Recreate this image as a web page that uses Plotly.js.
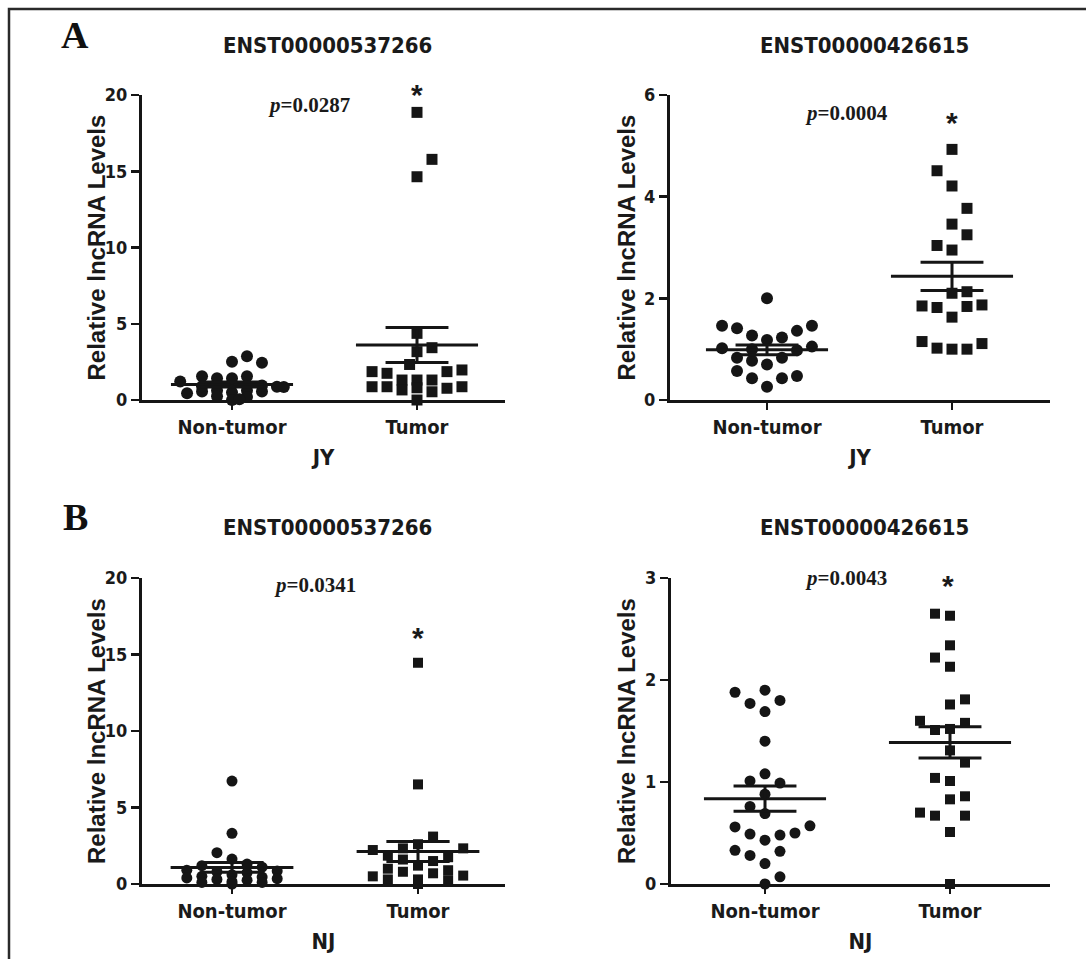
<!DOCTYPE html>
<html>
<head>
<meta charset="utf-8">
<script src="https://cdn.plot.ly/plotly-3.0.1.min.js"></script>
<style>html,body{margin:0;padding:0;background:#fff;}#chart{width:1086px;height:959px;}</style>
</head>
<body>
<div id="chart"></div>
<script>
// ---------- data ----------
const categories = ['Non-tumor', 'Tumor'];
const genes = ['ENST00000537266', 'ENST00000426615'];
const cohorts = ['JY', 'NJ'];
const pValues = ['0.0287', '0.0004', '0.0341', '0.0043'];
const panelLetters = ['A', 'B'];
const yAxisTitle = 'Relative lncRNA Levels';

// JY, ENST00000537266
const jy537NonTumor = [2.51, 2.87, 2.45, 1.22, 1.55, 1.42, 1.42, 1.55, 0.44, 0.55, 0.62, 0.50, 0.62, 0.55, 0.87, 0.85, 0.90, 0.95, 0.25, 0.20, 0.00, 0.05];
const jy537NonTumorJitter = [0, 0.081, 0.162, -0.28, -0.162, -0.081, 0, 0.081, -0.243, -0.162, -0.081, 0, 0.081, 0.162, 0.243, 0.28, -0.162, 0.162, -0.081, 0.081, 0, 0.04];
const jy537Tumor = [18.86, 15.78, 14.64, 4.37, 3.43, 3.17, 2.33, 1.86, 0.87, 1.75, 0.87, 1.31, 0.66, 1.31, 1.31, 0.54, 1.86, 0.77, 1.97, 0.87, 0.00, 0.80];
const jy537TumorJitter = [0, 0.081, 0, 0, 0.081, 0, -0.04, -0.243, -0.243, -0.162, -0.162, -0.081, -0.081, 0, 0.081, 0.081, 0.162, 0.162, 0.243, 0.243, 0, 0];

// JY, ENST00000426615
const jy426NonTumor = [2.00, 1.46, 1.41, 1.27, 1.18, 1.23, 1.36, 1.46, 1.02, 1.05, 0.98, 0.83, 0.77, 0.70, 0.83, 0.57, 0.43, 0.26, 0.43, 0.47, 1.00];
const jy426NonTumorJitter = [0, -0.243, -0.162, -0.081, 0, 0.081, 0.162, 0.243, -0.243, 0.243, 0.162, -0.162, -0.081, 0, 0.081, -0.162, -0.081, 0, 0.081, 0.162, -0.081];
const jy426Tumor = [4.93, 4.51, 4.21, 3.77, 3.46, 3.25, 3.04, 2.95, 2.10, 2.13, 1.85, 1.82, 1.84, 1.87, 1.63, 1.15, 1.02, 1.00, 1.00, 1.11];
const jy426TumorJitter = [0, -0.081, 0, 0.081, 0, 0.081, -0.081, 0, 0, 0.081, -0.162, -0.081, 0.081, 0.162, 0, -0.162, -0.081, 0, 0.081, 0.162];

// NJ, ENST00000537266
const nj537NonTumor = [6.73, 3.31, 2.05, 1.63, 1.30, 1.20, 1.10, 0.90, 0.85, 0.80, 0.75, 0.60, 0.50, 0.45, 0.40, 0.35, 0.30, 0.25, 0.15, 0.10, 0.10, 0.00];
const nj537NonTumorJitter = [0, 0, -0.081, 0, 0.081, -0.162, 0.162, -0.243, 0.243, -0.081, 0.081, 0, -0.162, 0.162, -0.243, 0.243, -0.081, 0.081, 0, -0.162, 0.162, 0];
const nj537Tumor = [14.46, 6.51, 3.10, 2.60, 2.33, 2.22, 2.33, 1.85, 1.75, 1.60, 1.50, 1.20, 1.00, 0.90, 0.80, 0.70, 0.50, 0.55, 0.30, 0.30, 0.25, 0.00];
const nj537TumorJitter = [0, 0, 0.081, 0, -0.081, -0.243, 0.243, -0.162, 0.162, -0.081, 0.081, 0, -0.162, 0.162, -0.081, 0.081, -0.243, 0.243, 0, -0.162, 0.162, 0];

// NJ, ENST00000426615
const nj426NonTumor = [1.88, 1.90, 1.77, 1.80, 1.69, 1.40, 1.08, 1.01, 0.99, 0.88, 0.76, 0.69, 0.56, 0.49, 0.43, 0.48, 0.50, 0.57, 0.33, 0.28, 0.32, 0.20, 0.07, 0.00];
const nj426NonTumorJitter = [-0.162, 0, -0.081, 0.081, 0, 0, 0, -0.081, 0.081, 0, -0.081, 0, -0.162, -0.081, 0, 0.081, 0.162, 0.243, -0.162, -0.081, 0.081, 0, 0.081, 0];
const nj426Tumor = [2.65, 2.63, 2.34, 2.22, 2.13, 1.81, 1.76, 1.60, 1.51, 1.52, 1.58, 1.31, 1.19, 1.04, 1.01, 0.83, 0.86, 0.70, 0.67, 0.67, 0.51, 0.00];
const nj426TumorJitter = [-0.081, 0, 0, -0.081, 0, 0.081, 0, -0.162, -0.081, 0, 0.081, 0, 0.081, -0.081, 0, 0, 0.081, -0.162, -0.081, 0.081, 0, 0];

const yTicksLarge = [0, 5, 10, 15, 20];
const yTicksJY426 = [0, 2, 4, 6];
const yTicksNJ426 = [0, 1, 2, 3];

// ---------- layout helpers ----------
const W = 1086, H = 959;
const fx = p => p / W;
const fy = p => 1 - p / H;
const narrow = 'Liberation Sans Narrow, Arial Narrow, DejaVu Sans Condensed, sans-serif';
const serif = 'Liberation Serif, Times New Roman, serif';
const ink = '#151515';

const panels = [
  {nt: jy537NonTumor, ntJ: jy537NonTumorJitter, t: jy537Tumor, tJ: jy537TumorJitter, ticks: yTicksLarge,
   gene: genes[0], cohort: cohorts[0], p: pValues[0], box: [142, 505, 95, 400], ntX: 232, tX: 417,
   titleXY: [327, 45], pXY: [309, 105], starXY: [417, 88], yTitleX: 96, ms: 12},
  {nt: jy426NonTumor, ntJ: jy426NonTumorJitter, t: jy426Tumor, tJ: jy426TumorJitter, ticks: yTicksJY426,
   gene: genes[1], cohort: cohorts[0], p: pValues[1], box: [670, 1050, 95, 400], ntX: 767, tX: 952,
   titleXY: [864, 45], pXY: [846, 113], starXY: [952, 115], yTitleX: 626, ms: 12},
  {nt: nj537NonTumor, ntJ: nj537NonTumorJitter, t: nj537Tumor, tJ: nj537TumorJitter, ticks: yTicksLarge,
   gene: genes[0], cohort: cohorts[1], p: pValues[2], box: [142, 505, 578, 884], ntX: 232, tX: 418,
   titleXY: [327, 527], pXY: [315, 585], starXY: [418, 630], yTitleX: 96, ms: 11},
  {nt: nj426NonTumor, ntJ: nj426NonTumorJitter, t: nj426Tumor, tJ: nj426TumorJitter, ticks: yTicksNJ426,
   gene: genes[1], cohort: cohorts[1], p: pValues[3], box: [671, 1050, 578, 884], ntX: 765, tX: 950,
   titleXY: [864, 527], pXY: [846, 578], starXY: [948, 578], yTitleX: 626, ms: 11}
];

const mean = a => a.reduce((s, v) => s + v, 0) / a.length;
const sem = a => { const m = mean(a); const sd = Math.sqrt(a.reduce((s, v) => s + (v - m) * (v - m), 0) / (a.length - 1)); return sd / Math.sqrt(a.length); };

const traces = [];
const layout = {
  width: W, height: H, margin: {l: 0, r: 0, t: 0, b: 0},
  paper_bgcolor: '#ffffff', plot_bgcolor: 'rgba(0,0,0,0)', showlegend: false,
  annotations: [], shapes: []
};

panels.forEach((P, i) => {
  const n = i + 1;
  const xa = n === 1 ? 'x' : 'x' + n, ya = n === 1 ? 'y' : 'y' + n;
  const xk = n === 1 ? 'xaxis' : 'xaxis' + n, yk = n === 1 ? 'yaxis' : 'yaxis' + n;
  const [x0, x1, y0, y1] = P.box;
  const unit = P.tX - P.ntX;
  const xr = [(x0 - P.ntX) / unit, (x1 - P.ntX) / unit];
  const ymax = P.ticks[P.ticks.length - 1];

  const groups = [
    {vals: P.nt, jit: P.ntJ, c: 0, sym: 'circle', size: P.ms},
    {vals: P.t, jit: P.tJ, c: 1, sym: 'square', size: P.ms - 1}
  ];
  groups.forEach(g => {
    traces.push({type: 'scatter', mode: 'markers', xaxis: xa, yaxis: ya, cliponaxis: false, hoverinfo: 'y',
      x: g.vals.map((v, k) => g.c + g.jit[k]), y: g.vals,
      marker: {symbol: g.sym, size: g.size, color: ink, line: {width: 0}}});
  });
  groups.forEach(g => {
    const m = mean(g.vals), s = sem(g.vals);
    traces.push({type: 'scatter', mode: 'lines', xaxis: xa, yaxis: ya, cliponaxis: false, hoverinfo: 'skip',
      x: [g.c - 0.33, g.c + 0.33], y: [m, m], line: {color: ink, width: 3}});
    traces.push({type: 'scatter', mode: 'markers', xaxis: xa, yaxis: ya, cliponaxis: false, hoverinfo: 'skip',
      x: [g.c], y: [m], marker: {size: 1, color: ink},
      error_y: {type: 'data', array: [s], visible: true, color: ink, thickness: 3, width: 0.17 * unit}});
  });

  layout[xk] = {
    domain: [fx(x0), fx(x1)], range: xr, anchor: ya, showgrid: false, zeroline: false,
    showline: true, linecolor: ink, linewidth: 3,
    ticks: 'outside', ticklen: 7, tickwidth: 2.5, tickcolor: ink,
    tickvals: [0, 1], ticktext: categories,
    tickfont: {family: narrow, size: 20, weight: 'bold', color: '#1a1a1a'},
    title: {text: P.cohort, font: {family: narrow, size: 22, weight: 'bold', color: '#1a1a1a'}, standoff: 12}
  };
  layout[yk] = {
    domain: [fy(y1), fy(y0)], range: [0, ymax], anchor: xa, showgrid: false, zeroline: false,
    showline: true, linecolor: ink, linewidth: 3,
    ticks: 'outside', ticklen: 8, tickwidth: 2.5, tickcolor: ink,
    tickvals: P.ticks, ticktext: P.ticks.map(String),
    tickfont: {family: narrow, size: 18, weight: 'bold', color: '#1a1a1a'}
  };

  layout.annotations.push({xref: 'paper', yref: 'paper', x: fx(P.yTitleX), y: fy((y0 + y1) / 2), xanchor: 'center', yanchor: 'middle',
    text: yAxisTitle, textangle: -90, showarrow: false,
    font: {family: 'Liberation Sans, Arial, sans-serif', size: 24, weight: 'bold', color: '#1a1a1a'}});
  layout.annotations.push({xref: 'paper', yref: 'paper', x: fx(P.titleXY[0]), y: fy(P.titleXY[1]), xanchor: 'center', yanchor: 'middle',
    text: P.gene, showarrow: false, font: {family: narrow, size: 22, weight: 'bold', color: '#1a1a1a'}});
  layout.annotations.push({xref: 'paper', yref: 'paper', x: fx(P.pXY[0]), y: fy(P.pXY[1]), xanchor: 'center', yanchor: 'middle',
    text: '<i>p</i>=' + P.p, showarrow: false, font: {family: serif, size: 21, weight: 'bold', color: '#1a1a1a'}});
  layout.annotations.push({xref: 'paper', yref: 'paper', x: fx(P.starXY[0]), y: fy(P.starXY[1] + 7), xanchor: 'center', yanchor: 'middle',
    text: '*', showarrow: false, font: {family: 'Liberation Sans, Arial, sans-serif', size: 30, weight: 'bold', color: '#1a1a1a'}});
});

layout.annotations.push({xref: 'paper', yref: 'paper', x: fx(75), y: fy(35), xanchor: 'center', yanchor: 'middle',
  text: panelLetters[0], showarrow: false, font: {family: serif, size: 38, weight: 'bold', color: '#111111'}});
layout.annotations.push({xref: 'paper', yref: 'paper', x: fx(75), y: fy(517), xanchor: 'center', yanchor: 'middle',
  text: panelLetters[1], showarrow: false, font: {family: serif, size: 38, weight: 'bold', color: '#111111'}});

layout.shapes.push({type: 'rect', xref: 'paper', yref: 'paper', x0: fx(9), x1: fx(1100), y0: fy(975), y1: fy(9),
  line: {color: '#2a2a2a', width: 2.5}, fillcolor: 'rgba(0,0,0,0)'});

Plotly.newPlot('chart', traces, layout, {displayModeBar: false, staticPlot: true});
</script>
</body>
</html>
